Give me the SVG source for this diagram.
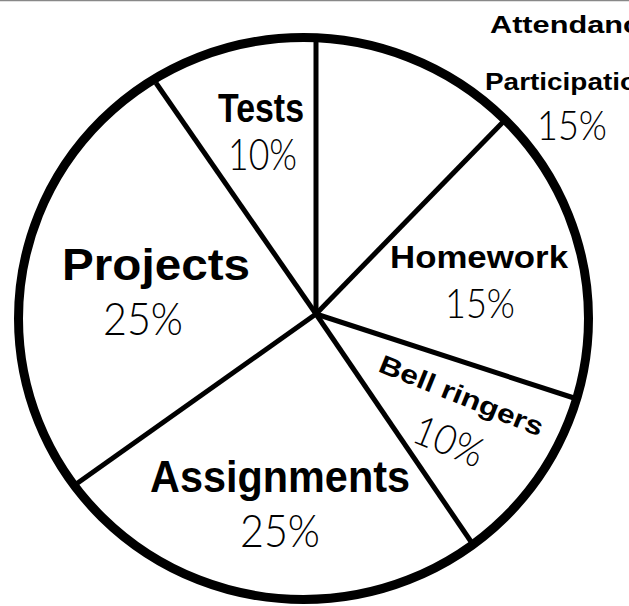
<svg xmlns="http://www.w3.org/2000/svg" width="629" height="606" viewBox="0 0 629 606">
<style>
.lbl{font-family:"Liberation Sans",Arial,sans-serif;font-weight:bold;fill:#000}
.pct{font-family:"Lato","Open Sans",sans-serif;font-weight:300;fill:#000}
.rim{fill:#fff;stroke:#000;stroke-width:9}
.spoke{stroke:#000;stroke-width:5;fill:none;stroke-linecap:butt}
</style>
<rect width="629" height="606" fill="#fff"/>
<line x1="0" y1="0.5" x2="629" y2="0.5" stroke="#888" stroke-width="1.5"/>
<ellipse id="pie-rim" class="rim" cx="303.5" cy="318.5" rx="285" ry="281"/>
<g id="connectors">
<line class="spoke" x1="316" y1="314" x2="316" y2="38"/>
<line class="spoke" x1="316" y1="314" x2="503" y2="122"/>
<line class="spoke" x1="316" y1="314" x2="574" y2="398"/>
<line class="spoke" x1="316" y1="314" x2="474" y2="546"/>
<line class="spoke" x1="316" y1="314" x2="72" y2="487"/>
<line class="spoke" x1="316" y1="314" x2="156" y2="83"/>
</g>
<g id="attendance">
<text class="lbl" x="490" y="33" font-size="24" textLength="150" lengthAdjust="spacingAndGlyphs">Attendanc</text>
<text class="lbl" x="485" y="90" font-size="24" textLength="152" lengthAdjust="spacingAndGlyphs">Participatio</text>
<text class="pct" x="537" y="140" font-size="41" textLength="70" lengthAdjust="spacingAndGlyphs">15%</text>
</g>
<g id="homework">
<text class="lbl" x="390" y="268" font-size="31" textLength="178" lengthAdjust="spacingAndGlyphs">Homework</text>
<text class="pct" x="445" y="318" font-size="42" textLength="70" lengthAdjust="spacingAndGlyphs">15%</text>
</g>
<g id="bell-ringers">
<text class="lbl" x="0" y="0" font-size="26" textLength="175" lengthAdjust="spacingAndGlyphs" transform="translate(377,371) rotate(22)">Bell ringers</text>
<text class="pct" x="0" y="0" font-size="41" textLength="72" lengthAdjust="spacingAndGlyphs" transform="translate(410,441) rotate(22)">10%</text>
</g>
<g id="assignments">
<text class="lbl" x="150" y="492" font-size="45" textLength="260" lengthAdjust="spacingAndGlyphs">Assignments</text>
<text class="pct" x="240" y="547" font-size="46" textLength="80" lengthAdjust="spacingAndGlyphs">25%</text>
</g>
<g id="projects">
<text class="lbl" x="62" y="280" font-size="45" textLength="188" lengthAdjust="spacingAndGlyphs">Projects</text>
<text class="pct" x="103" y="335" font-size="46" textLength="80" lengthAdjust="spacingAndGlyphs">25%</text>
</g>
<g id="tests">
<text class="lbl" x="218" y="122" font-size="41" textLength="86" lengthAdjust="spacingAndGlyphs">Tests</text>
<text class="pct" x="228" y="170" font-size="43" textLength="69" lengthAdjust="spacingAndGlyphs">10%</text>
</g>
</svg>
